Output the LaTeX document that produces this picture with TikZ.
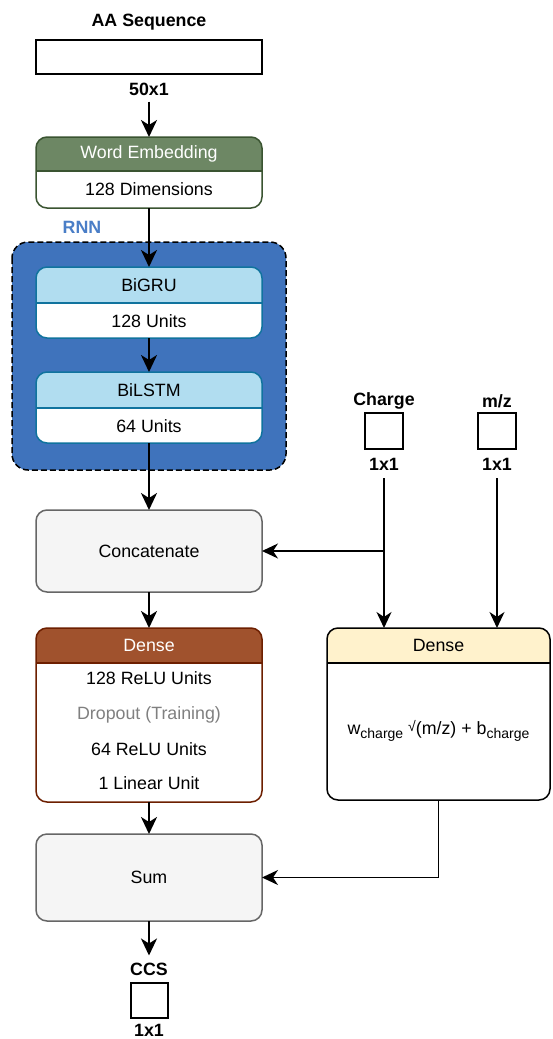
\documentclass[tikz,border=0pt]{standalone}
\usepackage{fontspec}
\setmainfont{Liberation Sans}
\usetikzlibrary{arrows.meta}
\definecolor{embfill}{HTML}{6D8764}
\definecolor{embstroke}{HTML}{3A5431}
\definecolor{rnnfill}{HTML}{3F73BC}
\definecolor{rnntext}{HTML}{4A7EC7}
\definecolor{grufill}{HTML}{B1DDF0}
\definecolor{grustroke}{HTML}{10739E}
\definecolor{catfill}{HTML}{F5F5F5}
\definecolor{catstroke}{HTML}{666666}
\definecolor{densefill}{HTML}{A0522D}
\definecolor{densestroke}{HTML}{6D1F00}
\definecolor{yelfill}{HTML}{FFF2CC}
\definecolor{graytext}{HTML}{808080}
\newcommand\mkswim[5]{% name, header height, header fill, stroke, header line width
  \fill[white,rounded corners=11pt] (#1.north west) rectangle (#1.south east);
  \begin{scope}
    \clip[rounded corners=11pt] (#1.north west) rectangle (#1.south east);
    \fill[#3] (#1.north west) rectangle ([yshift=-#2pt]#1.north east);
  \end{scope}
  \draw[#4, line width=#5pt] ([yshift=-#2pt]#1.north west) -- ([yshift=-#2pt]#1.north east);
  \draw[#4, line width=1.5pt, rounded corners=11pt] (#1.north west) rectangle (#1.south east);
}
\newcommand\subtxt[1]{\raisebox{-0.45ex}{\fontsize{14}{14}\selectfont #1}}
\tikzset{
  frame/.style={draw=none, fill=none, inner sep=0pt, outer sep=0pt},
  txt/.style={font=\fontsize{17.8}{21}\selectfont, inner sep=2pt},
  lbl/.style={font=\fontsize{17.8}{21}\selectfont\bfseries, inner sep=3pt},
  flow/.style={line width=2.4pt, -{Stealth[length=17pt,width=16pt,inset=5pt]}},
  thinarrow/.style={line width=1.6pt, -{Stealth[length=16pt,width=15pt,inset=5pt]}},
  sq/.style={draw, line width=1.5pt, inner sep=0pt, outer sep=0pt, fill=white},
}
\begin{document}
\begin{tikzpicture}[x=1pt,y=-1pt]
\useasboundingbox[fill=white] (0,0) rectangle (552,1039);

% ---- input sequence
\node[lbl] (aaL) at (149,22) {AA Sequence};
\node[sq, minimum width=226pt, minimum height=34pt] (aa) at (149,57) {};
\node[lbl] (aaD) at (149,89) {50x1};

% ---- word embedding
\node[frame, minimum width=226pt, minimum height=71pt] (emb) at (149,172.5) {};
\mkswim{emb}{34}{embfill}{embstroke}{2}
\node[txt, text=white] (embH) at (149,154) {Word Embedding};
\node[txt] (embB) at (149,189.5) {128 Dimensions};

% ---- RNN container
\node[font=\fontsize{17.8}{21}\selectfont\bfseries, text=rnntext] (rnnL) at (82,227) {RNN};
\node[frame, minimum width=274pt, minimum height=228pt] (rnn) at (149,356) {};
\draw[fill=rnnfill, draw=black, line width=1.5pt, dash pattern=on 6pt off 3pt, rounded corners=16pt]
  (rnn.north west) rectangle (rnn.south east);

% ---- BiGRU
\node[frame, minimum width=226pt, minimum height=71pt] (gru) at (149,302.5) {};
\mkswim{gru}{36}{grufill}{grustroke}{2.5}
\node[txt] (gruH) at (149,285) {BiGRU};
\node[txt] (gruB) at (149,321) {128 Units};

% ---- BiLSTM
\node[frame, minimum width=226pt, minimum height=71pt] (lstm) at (149,407.5) {};
\mkswim{lstm}{36}{grufill}{grustroke}{2.5}
\node[txt] (lstmH) at (149,390) {BiLSTM};
\node[txt] (lstmB) at (149,426) {64 Units};

% ---- Concatenate
\node[draw=catstroke, fill=catfill, line width=1.5pt, rounded corners=11pt, outer sep=0pt,
      minimum width=226pt, minimum height=82pt, txt] (cat) at (149,551) {Concatenate};

% ---- Charge / m/z inputs
\node[lbl] (chL) at (384,401) {Charge};
\node[sq, minimum width=38pt, minimum height=36pt] (ch) at (384,431) {};
\node[lbl] (chD) at (384,464) {1x1};
\node[lbl] (mzL) at (497,401) {m/z};
\node[sq, minimum width=38pt, minimum height=36pt] (mz) at (497,431) {};
\node[lbl] (mzD) at (497,464) {1x1};

% ---- Dense (brown)
\node[frame, minimum width=226pt, minimum height=174pt] (den) at (149,715) {};
\mkswim{den}{35}{densefill}{densestroke}{2.5}
\node[txt, text=white] (denH) at (149,645) {Dense};
\node[txt] (den1) at (149,678) {128 ReLU Units};
\node[txt, text=graytext] (den2) at (149,715) {Dropout (Training)};
\node[txt] (den3) at (149,749) {64 ReLU Units};
\node[txt] (den4) at (149,783) {1 Linear Unit};

% ---- Dense (yellow)
\node[frame, minimum width=223pt, minimum height=172pt] (dy) at (438.5,714) {};
\mkswim{dy}{35}{yelfill}{black}{2.5}
\node[txt] (dyH) at (438.5,645) {Dense};
\node[txt] (dyB) at (438.5,731) {w\subtxt{charge} \raisebox{0.3ex}{\fontsize{14}{14}\selectfont √}(m/z) + b\subtxt{charge}};

% ---- Sum
\node[draw=catstroke, fill=catfill, line width=1.5pt, rounded corners=11pt, outer sep=0pt,
      minimum width=226pt, minimum height=87pt, txt] (sum) at (149,877.5) {Sum};

% ---- output
\node[lbl] (ccsL) at (149,969) {CCS};
\node[sq, minimum width=37pt, minimum height=35pt] (ccs) at (149.5,1000.5) {};
\node[lbl] (ccsD) at (149,1030.5) {1x1};

% ---- connectors
\draw[flow, shorten <=3pt] (aaD) -- (emb.north);
\draw[flow] (emb.south) -- (gru.north);
\draw[flow] (gru.south) -- (lstm.north);
\draw[flow] (lstm.south) -- (cat.north);
\draw[flow] (cat.south) -- (den.north);
\draw[flow] (den.south) -- (sum.north);
\draw[flow, shorten >=4pt] (sum.south) -- (ccsL.north);

\coordinate (br) at (chD |- cat.east);
\draw[thinarrow, shorten <=5pt] (chD) -- (chD |- dy.north);
\draw[thinarrow] (br) -- (cat.east);
\draw[thinarrow, shorten <=5pt] (mzD) -- (mzD |- dy.north);
\draw[thinarrow] (dy.south) |- (sum.east);
\end{tikzpicture}
\end{document}
